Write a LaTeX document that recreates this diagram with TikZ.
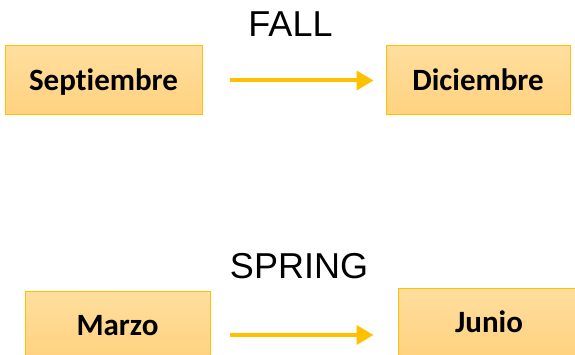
\documentclass[tikz,border=0pt]{standalone}
\usepackage{fontspec}
\setmainfont{Carlito}[Ligatures=NoCommon]
\newfontfamily\arialfont{Liberation Sans}
\usepackage{tikz}
\usetikzlibrary{arrows.meta}

\definecolor{oro}{HTML}{FFC000}
\definecolor{cajaarriba}{HTML}{FFDE9E}
\definecolor{cajaabajo}{HTML}{FFD27F}

\begin{document}
\begin{tikzpicture}[x=1pt,y=1pt,
    mes/.style={draw=oro,line width=1pt,top color=cajaarriba,bottom color=cajaabajo,
      minimum height=69pt,inner sep=0pt,text height=19.5pt,text depth=0pt,
      font=\fontsize{31}{34}\selectfont\bfseries},
    estacion/.style={anchor=base,inner sep=0pt,font=\arialfont\fontsize{36}{40}\selectfont},
    flecha/.style={draw=oro,line width=4pt,-{Triangle[length=17pt,width=19pt]}}]
      \useasboundingbox (0,0) rectangle (575,-355);

      \node[estacion] (fall) at (290.5,-37) {FALL};
      \node[mes,minimum width=197pt] (sep) at (103.5,-80.5) {Septiembre};
      \node[mes,minimum width=184pt] (dic) at (478,-80.5) {Diciembre};

      \node[estacion] (spring) at (299,-278) {SPRING};
      \node[mes,minimum width=185pt] (mar) at (117.5,-325.5) {Marzo};
      \node[mes,minimum width=182pt] (jun) at (489,-322.5) {Junio};

      \draw[flecha,shorten <=27pt,shorten >=12pt] (sep) -- (dic);
      \draw[flecha,shorten <=19pt,shorten >=24pt]
        ([yshift=-9.5pt]mar.east) -- ([yshift=-9.5pt]mar.east -| jun.west);
    \end{tikzpicture}
\end{document}
